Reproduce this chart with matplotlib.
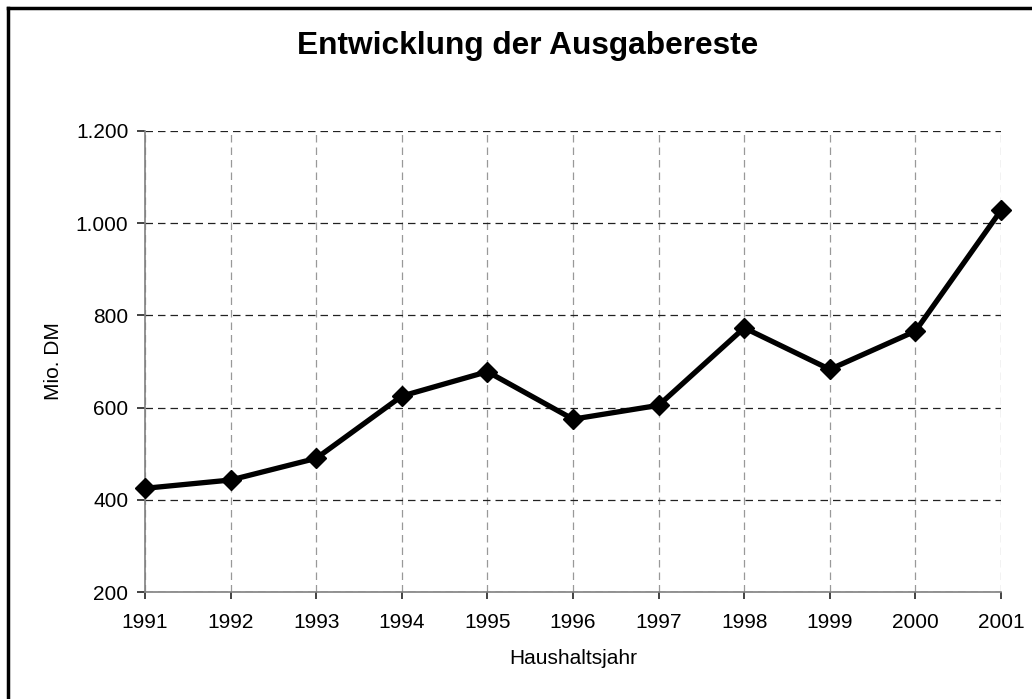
import matplotlib
matplotlib.use("Agg")
import matplotlib.pyplot as plt
from matplotlib.lines import Line2D
from matplotlib.ticker import FuncFormatter

plt.rcParams['font.family'] = ['Liberation Sans', 'DejaVu Sans']

# Ausgabereste in Mio. DM je Haushaltsjahr
years = [1991, 1992, 1993, 1994, 1995, 1996, 1997, 1998, 1999, 2000, 2001]
values = [425, 443, 490, 625, 678, 575, 605, 773, 683, 766, 1028]
y_ticks = [200, 400, 600, 800, 1000, 1200]

fig = plt.figure(figsize=(10.32, 6.99), dpi=100)
ax = fig.add_axes([0.1405, 0.153, 0.8295, 0.6596])

ax.plot(years, values, color='black', linewidth=3.8, marker='D',
        markersize=10, zorder=3, clip_on=False)

ax.set_xlim(1991, 2001)
ax.set_ylim(200, 1200)
ax.set_xticks(years)
ax.set_yticks(y_ticks)
ax.yaxis.set_major_formatter(FuncFormatter(lambda v, p: f"{int(v):,}".replace(",", ".")))

# grid: horizontal dark dashes, vertical grey dashes
ax.yaxis.grid(True, color='#222222', linestyle=(0, (6, 4)), linewidth=0.9)
ax.xaxis.grid(True, color='#999999', linestyle=(0, (6, 4)), linewidth=0.9)
ax.set_axisbelow(True)

for side in ['top', 'right']:
    ax.spines[side].set_visible(False)
for side in ['left', 'bottom']:
    ax.spines[side].set_color('#808080')
    ax.spines[side].set_linewidth(1.2)

ax.tick_params(axis='y', direction='out', length=6, width=1.2, color='#222222',
               labelsize=15, pad=6)
ax.tick_params(axis='x', direction='out', length=5, width=1.2, color='#222222',
               labelsize=15, pad=10)

ax.set_xlabel('Haushaltsjahr', fontsize=15, labelpad=12)
ax.set_ylabel('Mio. DM', fontsize=15, labelpad=9)

fig.text(0.511, 0.9227, 'Entwicklung der Ausgabereste', ha='center', va='baseline',
         fontsize=22.8, fontweight='bold')

# outer frame (only left and top visible in the crop)
fig.add_artist(Line2D([0.0073, 0.0073], [0.0, 0.989], transform=fig.transFigure,
                      color='black', linewidth=2.5))
fig.add_artist(Line2D([0.0073, 1.0], [0.989, 0.989], transform=fig.transFigure,
                      color='black', linewidth=2.5))

fig.savefig('out.png', dpi=100)
